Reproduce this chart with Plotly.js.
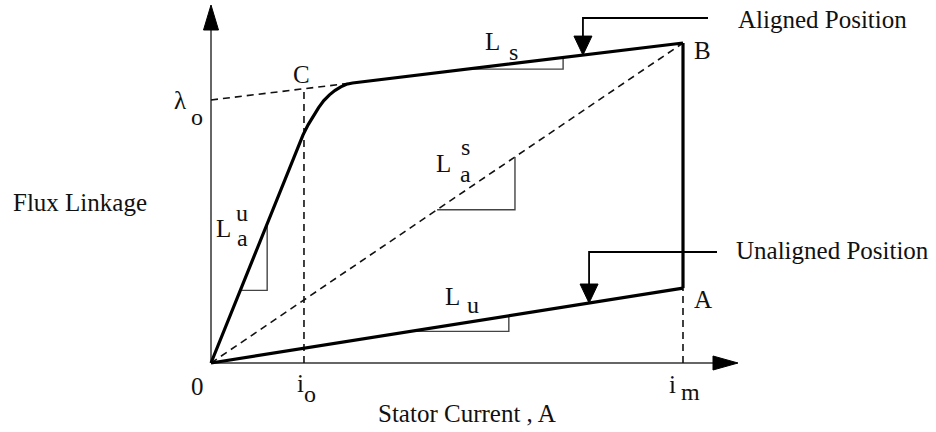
<!DOCTYPE html>
<html>
<head>
<meta charset="utf-8">
<script src="https://cdn.plot.ly/plotly-3.0.1.min.js"></script>
<style>
  html, body { margin: 0; padding: 0; background: #ffffff; }
  #chart { width: 936px; height: 432px; }
</style>
</head>
<body>
<div id="chart"></div>
<script>
// Flux linkage vs stator current of a switched reluctance machine
// (aligned / unaligned magnetisation characteristics).

// Aligned-position characteristic: linear rise, saturation knee, then L_s slope up to B
const alignedCurrent = [0, 1.85, 1.95, 2.06, 2.17, 2.28, 2.39, 2.51, 2.63, 2.75, 2.87, 3.0, 10];
const alignedFlux    = [0, 6.77, 7.13, 7.45, 7.73, 7.98, 8.20, 8.38, 8.52, 8.63, 8.71, 8.75, 10.0];

// Unaligned-position characteristic: straight line up to A
const unalignedCurrent = [0, 10];
const unalignedFlux    = [0, 2.34];

// Marked quantities on the axes
const iO = 1.97;        // saturation current i_o
const lambdaO = 8.22;   // intercept of the saturated slope, lambda_o

// Current spans of the small slope triangles
const spanLs  = [5.42, 7.46];
const spanLas = [4.79, 6.44];
const spanLau = [0.62, 1.19];
const spanLu  = [4.22, 6.31];

// Currents where the position pointers touch the curves
const alignedPointerAt = 7.88;
const unalignedPointerAt = 8.01;

// ---- geometry helpers (pixel <-> data) ----
const W = 936, H = 432;
const X0PX = 211, Y0PX = 363, SX = 47.2, SY = 32;
const px2x = p => (p - X0PX) / SX;
const py2y = p => (Y0PX - p) / SY;

const iM = alignedCurrent[alignedCurrent.length - 1];
const fluxB = alignedFlux[alignedFlux.length - 1];
const fluxA = unalignedFlux[unalignedFlux.length - 1];

const slopeLs  = (fluxB - lambdaO) / iM;
const slopeLas = fluxB / iM;
const slopeLau = alignedFlux[1] / alignedCurrent[1];
const slopeLu  = fluxA / iM;
const lineLs  = x => lambdaO + slopeLs * x;
const lineLas = x => slopeLas * x;
const lineLau = x => slopeLau * x;
const lineLu  = x => slopeLu * x;

const traces = [];
const solid = (x, y, w, c) => traces.push({
  x, y, type: 'scatter', mode: 'lines', hoverinfo: 'skip',
  line: { color: c || '#000', width: w }
});
const dashed = (x, y) => traces.push({
  x, y, type: 'scatter', mode: 'lines', hoverinfo: 'skip',
  line: { color: '#111', width: 1.6, dash: '7px,5px' }
});
const filled = (x, y) => traces.push({
  x, y, type: 'scatter', mode: 'lines', fill: 'toself', hoverinfo: 'skip',
  fillcolor: '#000', line: { color: '#000', width: 1 }
});

// Axes with arrowheads
const yTip = py2y(5), xTip = px2x(738);
solid([0, 0], [0, yTip - 20 / SY], 1.5, '#333');
filled([0, -7.5 / SX, 7.5 / SX, 0], [yTip, yTip - 25 / SY, yTip - 25 / SY, yTip]);
solid([0, xTip - 20 / SX], [0, 0], 1.5, '#333');
filled([xTip, xTip - 25 / SX, xTip - 25 / SX, xTip], [0, 7 / SY, -7 / SY, 0]);

// Dashed construction lines
dashed([0, iM], [0, fluxB]);                               // O-B chord (L_a^s)
dashed([0, 2.9], [lambdaO, lineLs(2.9)]);                  // extension of L_s to lambda_o
dashed([iO, iO], [0, lineLs(iO)]);                         // i_o to point C
dashed([iM, iM], [0, fluxA]);                              // i_m to point A

// Slope triangles
const tri = (span, f) => solid([span[0], span[1], span[1]], [f(span[0]), f(span[0]), f(span[1])], 1.4, '#444');
tri(spanLs, lineLs);
tri(spanLas, lineLas);
tri(spanLau, lineLau);
tri(spanLu, lineLu);

// Characteristics
solid(alignedCurrent, alignedFlux, 3.2);
solid(unalignedCurrent, unalignedFlux, 3.2);
solid([iM, iM], [fluxB, fluxA], 3.2);

// Position pointers
const pointer = (xAt, yTipP, yLine, xEnd) => {
  const hl = 19 / SY, hw = 9 / SX;
  solid([xEnd, xAt, xAt], [yLine, yLine, yTipP + hl], 1.8);
  filled([xAt, xAt - hw, xAt + hw, xAt], [yTipP, yTipP + hl, yTipP + hl, yTipP]);
};
pointer(alignedPointerAt, lineLs(alignedPointerAt), py2y(18), px2x(708));
pointer(unalignedPointerAt, lineLu(unalignedPointerAt), py2y(252), px2x(717));

// ---- text ----
const FONT = 'Liberation Serif, Times New Roman, serif';
const ann = [];
const txt = (text, px, py, size, anchor) => ann.push({
  text, x: px2x(px), y: py2y(py), xref: 'x', yref: 'y', showarrow: false,
  xanchor: anchor || 'center', yanchor: 'middle',
  font: { family: FONT, size: size || 25, color: '#111' }
});

txt('Aligned Position', 736, 19, 25, 'left');
txt('Unaligned Position', 734, 250, 25, 'left');
txt('Flux Linkage', 11, 202, 25, 'left');
txt('Stator Current , A', 376, 413, 25, 'left');

txt('A', 703, 299);
txt('B', 702, 50);
txt('C', 301, 74);
txt('0', 197, 386);
txt('λ', 180, 100);
txt('o', 197, 117, 24);
txt('i', 300, 383);
txt('o', 310, 394, 24);
txt('i', 672, 384);
txt('m', 690, 392, 24);

txt('L', 492, 41);
txt('s', 513, 52, 24);
txt('L', 443, 163);
txt('s', 465, 147, 24);
txt('a', 465, 174, 24);
txt('L', 223, 228);
txt('u', 242, 213, 24);
txt('a', 242, 238, 24);
txt('L', 452, 296);
txt('u', 473, 305, 24);

const layout = {
  width: W, height: H,
  margin: { l: 0, r: 0, t: 0, b: 0 },
  paper_bgcolor: '#ffffff', plot_bgcolor: '#ffffff',
  showlegend: false,
  xaxis: { range: [px2x(0), px2x(W)], visible: false, fixedrange: true },
  yaxis: { range: [py2y(H), py2y(0)], visible: false, fixedrange: true },
  annotations: ann
};

Plotly.newPlot('chart', traces, layout, { displayModeBar: false, staticPlot: true });
</script>
</body>
</html>
